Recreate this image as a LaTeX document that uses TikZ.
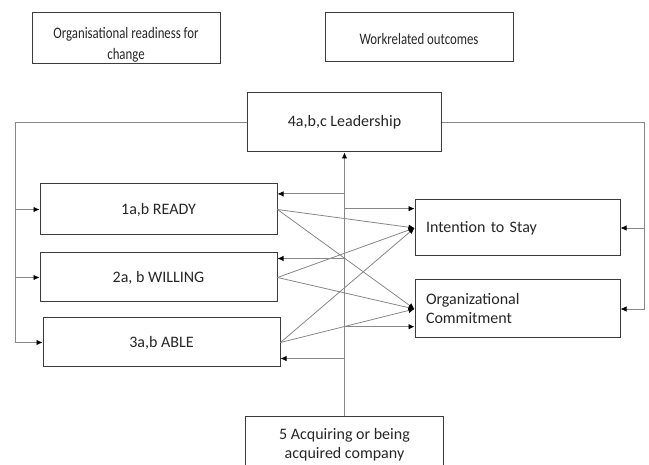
\documentclass[tikz,border=0pt]{standalone}
\usepackage{fontspec}
\setmainfont{Carlito}
\newfontfamily\headFont[FakeStretch=0.8]{Carlito}
\usetikzlibrary{arrows.meta, positioning, calc}
\definecolor{boxLine}{RGB}{60, 60, 60}
\definecolor{linkGray}{RGB}{135, 135, 135}
\definecolor{textDark}{RGB}{38, 38, 38}
\tikzset{
    % Base Block Style
    block/.style={
        rectangle,
        draw=boxLine,
        line width=1pt,
        inner sep=4pt,
        text=textDark,
        font=\fontsize{16}{19}\selectfont,
        align=center
    },
    % Specific Role Styles
    headBox/.style={block, minimum width=188pt, inner ysep=0pt, font=\headFont\fontsize{16}{21}\selectfont},
    factorBox/.style={block, minimum width=237pt, minimum height=50pt},
    outcomeBox/.style={block, minimum width=205pt, inner xsep=11pt, text width=183pt, align=left},
    % Arrow & Line Styles
    link/.style={draw=linkGray, line width=0.8pt},
    arrow/.style={link, -{Latex[length=6pt, width=5.5pt, black]}}
}
\begin{document}
\begin{tikzpicture}[x=1pt, y=-1pt]

    \useasboundingbox (0,0) rectangle (649,465);

    % --- HEADERS ---
    \node (orgHead) [headBox, minimum height=51pt] at (126,38) {\rule{0pt}{24pt}Organisational readiness for\\ change};
    \node (workHead) [headBox, minimum height=49pt] at (419,37.5) {\rule{0pt}{14pt}Workrelated outcomes};

    % --- MODERATOR (Leadership) ---
    \node (lead) [block, minimum width=194pt, minimum height=59pt] at (344.5,122.5) {4a,b,c Leadership};

    % --- LEFT COLUMN (Readiness) ---
    \node (ready) [factorBox, minimum height=51pt] at (158.5,209.5) {1a,b READY};
    \node (willing) [factorBox, minimum height=49pt] at (158.5,277.5) {2a, b WILLING};
    \node (able) [factorBox, minimum height=49pt] at (161.5,342.5) {3a,b ABLE};

    % --- RIGHT COLUMN (Outcomes) ---
    \node (stay) [outcomeBox, minimum height=56pt] at (517.5,228) {Intention to Stay};
    \node (commit) [outcomeBox, minimum height=58pt] at (517.5,309) {Organizational\\ Commitment};

    % --- MODERATOR (Acquisition) ---
    \node (acq) [block, minimum width=198pt, minimum height=56pt] at (344.5,445) {5 Acquiring or being\\ acquired company};

    % --- Feedback rails ---
    \coordinate (leftRail) at (15,0);
    \coordinate (rightRail) at (644,0);
    \draw [arrow] (lead.west) -| (leftRail |- able.west) -- (able.west);
    \draw [arrow] (leftRail |- ready.west) -- (ready.west);
    \draw [arrow] (leftRail |- willing.west) -- (willing.west);
    \draw [arrow] (lead.east) -| (rightRail |- commit.east) -- (commit.east);
    \draw [arrow] (rightRail |- stay.east) -- (stay.east);

    % --- Acquisition spine ---
    \draw [arrow] (acq.north) -- (lead.south);

    \coordinate (inReady) at ($(ready.north east)!0.2!(ready.south east)$);
    \coordinate (inStay) at ($(stay.north west)!0.16!(stay.south west)$);
    \coordinate (inWilling) at ($(willing.north east)!0.12!(willing.south east)$);
    \coordinate (inCommit) at ($(commit.north west)!0.8!(commit.south west)$);
    \coordinate (inAble) at ($(able.north east)!0.82!(able.south east)$);
    \foreach \tgt in {inReady, inStay, inWilling, inCommit, inAble}
        \draw [arrow] (lead.south |- \tgt) -- (\tgt);

    % --- Arrows (Readiness to Outcomes) ---
    \foreach \src in {ready, willing, able}
        \foreach \dst in {stay, commit}
            \draw [arrow] (\src.east) -- (\dst.west);

\end{tikzpicture}
\end{document}
